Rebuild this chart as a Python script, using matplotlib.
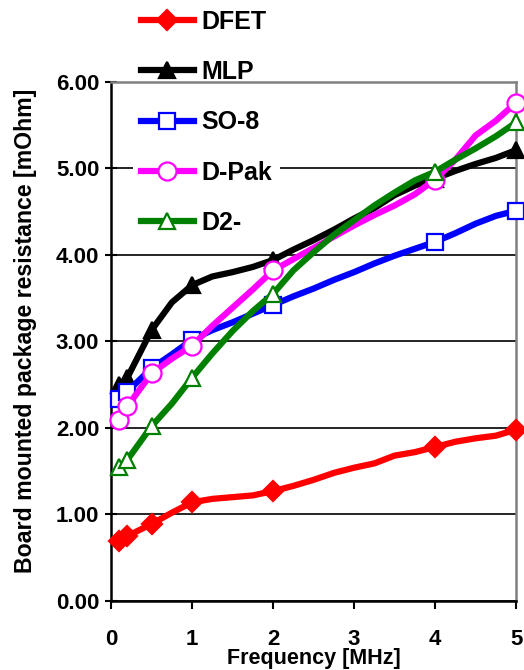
import matplotlib
matplotlib.use("Agg")
import matplotlib.pyplot as plt
from matplotlib.ticker import FormatStrFormatter

plt.rcParams['font.family'] = ['Liberation Sans', 'DejaVu Sans']
plt.rcParams['font.weight'] = 'bold'

freq = [0.1, 0.2, 0.5, 0.75, 1, 1.25, 1.5, 1.75, 2, 2.25, 2.5, 2.75, 3,
        3.25, 3.5, 3.75, 4, 4.25, 4.5, 4.75, 5]
marker_idx = [0, 1, 2, 4, 8, 16, 20]

dfet = [0.69, 0.75, 0.89, 1.02, 1.14, 1.18, 1.20, 1.22, 1.27, 1.33, 1.40,
        1.48, 1.54, 1.59, 1.68, 1.72, 1.78, 1.84, 1.88, 1.91, 1.98]
mlp = [2.50, 2.58, 3.13, 3.45, 3.65, 3.75, 3.80, 3.86, 3.94, 4.06, 4.17,
       4.29, 4.42, 4.54, 4.69, 4.80, 4.88, 4.97, 5.05, 5.12, 5.21]
so8 = [2.33, 2.42, 2.69, 2.85, 3.02, 3.13, 3.22, 3.32, 3.42, 3.52, 3.61,
       3.71, 3.80, 3.90, 3.99, 4.07, 4.15, 4.25, 4.36, 4.45, 4.51]
dpak = [2.09, 2.25, 2.63, 2.80, 2.95, 3.18, 3.39, 3.60, 3.82, 3.95, 4.08,
        4.21, 4.34, 4.46, 4.57, 4.70, 4.87, 5.10, 5.38, 5.55, 5.76]
d2 = [1.55, 1.63, 2.02, 2.28, 2.58, 2.86, 3.12, 3.35, 3.55, 3.82, 4.03,
      4.23, 4.40, 4.57, 4.72, 4.86, 4.96, 5.10, 5.23, 5.37, 5.53]

labels = ['DFET', 'MLP', 'SO-8', 'D-Pak', 'D2-']
series = [dfet, mlp, so8, dpak, d2]
colors = ['#ff0000', '#000000', '#0000ff', '#ff00ff', '#008000']
markers = ['D', '^', 's', 'o', '^']
mfaces = ['#ff0000', '#000000', 'white', 'white', 'white']
msizes = [10, 11, 11, 13, 12]

fig = plt.figure(figsize=(5.24, 6.70), dpi=100)
ax = fig.add_axes([0.212, 0.103, 0.773, 0.775])

for ys, lab, c, m, mf, ms in zip(series, labels, colors, markers, mfaces, msizes):
    ax.plot(freq, ys, color=c, lw=4.5, marker=m, markevery=marker_idx,
            markersize=ms, markerfacecolor=mf, markeredgecolor=c,
            markeredgewidth=1.6, label=lab, zorder=3, clip_on=False)

ax.set_xlim(0, 5)
ax.set_ylim(0, 6)
ax.set_xticks([0, 1, 2, 3, 4, 5])
ax.set_yticks([0, 1, 2, 3, 4, 5, 6])
ax.yaxis.set_major_formatter(FormatStrFormatter('%.2f'))
ax.grid(axis='y', color='black', lw=1.2, zorder=1)
ax.set_axisbelow(True)

for s in ['left', 'bottom']:
    ax.spines[s].set_color('black')
    ax.spines[s].set_linewidth(1.8)
for s in ['top', 'right']:
    ax.spines[s].set_color('#808080')
    ax.spines[s].set_linewidth(1.8)

ax.tick_params(axis='y', direction='inout', length=9, width=1.5,
               labelsize=16, pad=4)
ax.tick_params(axis='x', direction='out', length=6, width=1.5,
               labelsize=16, pad=14)
for t in ax.get_xticklabels() + ax.get_yticklabels():
    t.set_fontweight('bold')

ax.set_xlabel('Frequency [MHz]', fontsize=15.5, fontweight='bold', labelpad=-1)
ax.set_ylabel('Board mounted package resistance [mOhm]', fontsize=16.7,
              fontweight='bold')
ax.yaxis.set_label_coords(-0.183, 0.52)

leg = ax.legend(loc='upper left', bbox_to_anchor=(0.23, 1.015),
                bbox_transform=fig.transFigure,
                frameon=True, fancybox=False, edgecolor='none',
                facecolor='white', framealpha=1, fontsize=18,
                handlelength=2.15, handletextpad=0.3, labelspacing=1.05,
                borderpad=0.3)
leg.set_zorder(2)
for t in leg.get_texts():
    t.set_fontweight('bold')

fig.savefig('out.png', dpi=100)
